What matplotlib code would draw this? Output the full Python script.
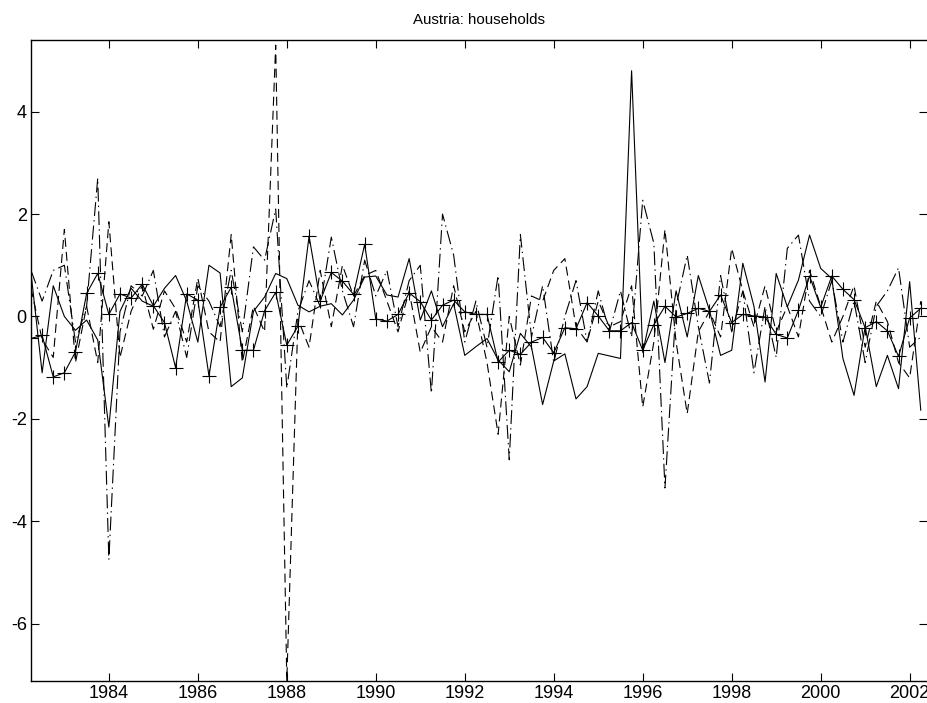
import numpy as np
import matplotlib
matplotlib.use("Agg")
import matplotlib.pyplot as plt

plt.rcParams['font.family'] = ['Liberation Sans', 'DejaVu Sans']
plt.rcParams['lines.scale_dashes'] = False

title = "Austria: households"
start_year = 1982.25
step = 0.25

# solid line
series_solid = [
    0.85, -1.1, 0.6,
    0.0, -0.27, -0.07, -0.46,
    -2.16, 0.1, 0.55, 0.3,
    0.2, 0.55, 0.8, 0.3,
    -0.5, 1.0, 0.85, -1.37,
    -1.2, 0.1, 0.38, 0.84,
    0.74, 0.22, 0.09, 0.2,
    0.25, 0.03, 0.32, 0.77,
    0.79, 0.42, 0.38, 1.13,
    -0.07, 0.5, -0.2, 0.25,
    -0.76, -0.59, -0.43, -0.85,
    -1.08, -0.33, -0.6, -1.72,
    -0.87, -0.73, -1.61, -1.37,
    -0.72, -0.77, -0.82, 4.8,
    -0.7, 0.3, -0.9, 0.5,
    -0.4, 0.8, 0.12, -0.76,
    -0.66, 1.04, 0.2, -1.28,
    0.84, 0.19, 0.71, 1.59,
    0.94, 0.74, -0.82, -1.54,
    -0.2, -1.37, -0.76, -1.41,
    0.68, -1.83,
]

# dashed line
series_dashed = [
    0.55, -0.45, -0.8,
    1.7, -0.9, 0.2, -0.9,
    1.85, -0.8, 0.1, 0.6,
    -0.25, 0.5, 0.15, -0.5,
    0.75, -0.3, -0.5, 1.6,
    -0.9, 0.2, -0.3, 5.3,
    -7.12, -0.05, -0.6, 0.9,
    -0.2, 1.0, 0.4, 0.8,
    0.9, 0.3, -0.3, 0.5,
    -0.7, -0.2, -0.5, 0.6,
    -0.3, 0.1, -0.9, -2.3,
    0.0, -0.95, 0.4, 0.3,
    0.9, 1.13, -0.2, -0.5,
    0.3, -0.2, -0.1, 0.6,
    -1.77, -0.5, 1.7, -0.5,
    -1.9, -0.3, 0.1, -0.4,
    1.33, 0.5, -0.2, 0.6,
    -0.3, 0.2, -0.4, 0.9,
    0.2, -0.5, 0.0, 0.6,
    -0.6, 0.3, -0.1, -0.9,
    -1.2, 0.3,
]

# dash-dot line
series_dashdot = [
    0.9, 0.3, 0.9,
    1.0, -0.5, 0.2, 2.7,
    -4.75, -0.3, 0.6, 0.4,
    0.9, -0.4, 0.1, -0.8,
    0.6, 0.3, -0.2, 0.9,
    -0.3, 1.36, 1.1, 2.1,
    -1.4, 0.1, 0.7, 0.2,
    1.55, 0.5, -0.2, 1.1,
    0.4, 0.9, -0.2, 0.7,
    1.0, -1.5, 2.0, 1.2,
    -0.5, 0.3, -0.6, 0.8,
    -2.8, 1.6, -0.4, 0.6,
    -0.9, 0.0, 0.7, -0.5,
    0.5, -0.3, 0.5, -0.4,
    2.27, 1.43, -3.35, 0.2,
    1.2, -0.2, -1.3, 0.8,
    -0.3, 0.5, -1.1, 0.2,
    -0.8, 1.33, 1.59, 0.3,
    0.0, 0.7, -0.5, 0.3,
    -0.9, 0.2, 0.5, 0.95,
    -0.6, -0.4,
]

# solid line with + markers
series_plus = [
    -0.43, -0.37, -1.18,
    -1.1, -0.69, 0.45, 0.84,
    0.04, 0.44, 0.36, 0.63,
    0.21, -0.12, -1.0, 0.44,
    0.32, -1.16, 0.18, 0.57,
    -0.66, -0.66, 0.11, 0.47,
    -0.56, -0.19, 1.57, 0.30,
    0.86, 0.69, 0.43, 1.41,
    -0.05, -0.09, 0.04, 0.46,
    0.29, -0.07, 0.22, 0.32,
    0.09, 0.04, 0.04, -0.89,
    -0.66, -0.74, -0.5, -0.41,
    -0.71, -0.22, -0.24, 0.27,
    0.01, -0.28, -0.28, -0.12,
    -0.66, -0.16, 0.2, -0.01,
    0.06, 0.16, 0.1, 0.42,
    -0.12, 0.04, 0.01, -0.01,
    -0.35, -0.42, 0.12, 0.79,
    0.18, 0.79, 0.53, 0.33,
    -0.22, -0.1, -0.28, -0.78,
    -0.03, 0.16,
]

xticks = [1984, 1986, 1988, 1990, 1992, 1994, 1996, 1998, 2000, 2002]
yticks = [-6, -4, -2, 0, 2, 4]

n = len(series_plus)
dates = start_year + step * np.arange(n)

fig = plt.figure(figsize=(9.27, 7.03), dpi=100)
ax = fig.add_axes([31 / 927, 22 / 703, 1 - 31 / 927, (681 - 39.5) / 703])

lw = 0.8
ax.plot(dates, series_solid, color='black', lw=lw, linestyle='-')
ax.plot(dates, series_dashed, color='black', lw=lw, linestyle=(0, (6.5, 3.6)))
ax.plot(dates, series_dashdot, color='black', lw=lw, linestyle=(0, (10, 3, 1, 3)))
ax.plot(dates, series_plus, color='black', lw=lw, linestyle='-', marker='+',
        markersize=9.5, markeredgewidth=0.8)

ax.set_xlim(1982.25, 2002.39)
ax.set_ylim(-7.12, 5.41)
ax.set_xticks(xticks)
ax.set_yticks(yticks)
ax.set_xticklabels([str(t) for t in xticks])
ax.set_yticklabels([str(t) for t in yticks])
ax.tick_params(direction='in', length=6, width=0.8, labelsize=13,
               top=True, right=True, pad=3)
for s in ['left', 'bottom', 'top']:
    ax.spines[s].set_linewidth(1.0)
ax.spines['right'].set_visible(False)
ax.set_title(title, fontsize=10.8, pad=11)

fig.savefig("out.png", dpi=100)
